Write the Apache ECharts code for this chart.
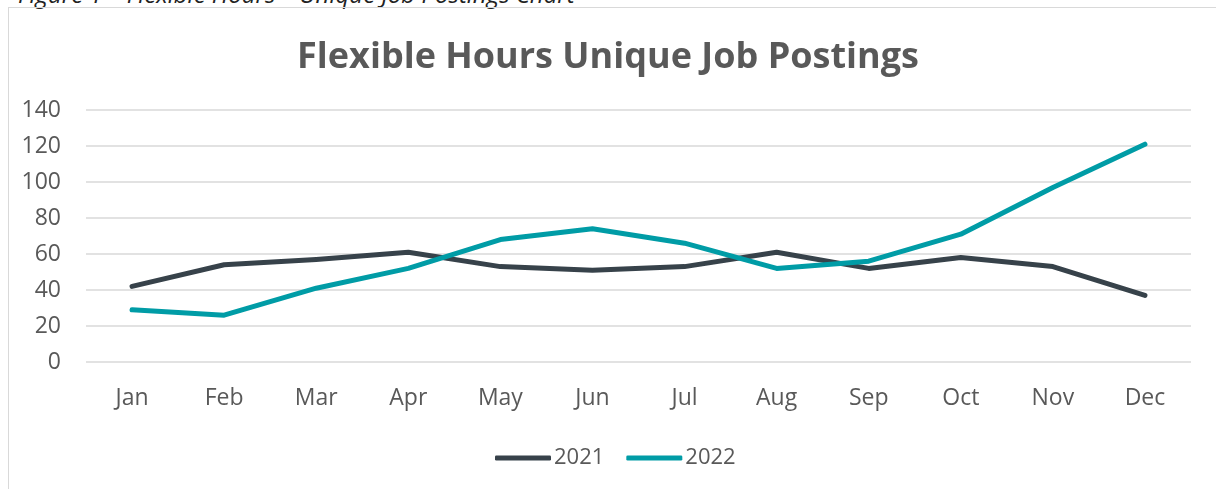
<!DOCTYPE html>
<html>
<head>
<meta charset="utf-8">
<script src="https://cdn.jsdelivr.net/npm/echarts@6/dist/echarts.min.js"></script>
<style>
  html, body { margin: 0; padding: 0; background: #fff; overflow: hidden; }
  #frame { position: absolute; left: 8px; top: 7px; width: 1400px; height: 700px; border-left: 1.5px solid #d9d9d9; border-top: 1.5px solid #d9d9d9; }
  #caption { position: absolute; left: 18px; top: -16px; line-height: 20px; font-family: "Open Sans", sans-serif; font-style: italic; font-size: 24px; color: #222; white-space: nowrap; }
  #chart { position: absolute; left: 0; top: 0; width: 1216px; height: 489px; }
</style>
</head>
<body>
<div id="caption">Figure 1 – Flexible Hours – Unique Job Postings Chart</div>
<div id="frame"></div>
<div id="chart"></div>
<script>
const months = ["Jan","Feb","Mar","Apr","May","Jun","Jul","Aug","Sep","Oct","Nov","Dec"];
const series2021 = [42, 54, 57, 61, 53, 51, 53, 61, 52, 58, 53, 37];
const series2022 = [29, 26, 41, 52, 68, 74, 66, 52, 56, 71, 97, 121];
const seriesNames = ["2021", "2022"];
const titleText = "Flexible Hours Unique Job Postings";

const chart = echarts.init(document.getElementById('chart'), null, { renderer: 'canvas' });
const font = '"Open Sans", "Noto Sans", sans-serif';
chart.setOption({
  animation: false,
  title: {
    text: titleText,
    left: 'center',
    top: 35,
    padding: [5, 0, 5, 8],
    textStyle: { fontFamily: font, fontSize: 36, fontWeight: 'bold', color: '#595959' }
  },
  legend: {
    data: seriesNames,
    bottom: 20,
    left: 495,
    padding: 0,
    icon: 'roundRect',
    itemWidth: 56,
    itemHeight: 5,
    itemGap: 22,
    textStyle: { fontFamily: font, fontSize: 22, color: '#595959', padding: [0, 0, 0, -2] }
  },
  grid: { left: 86, right: 25, top: 110, bottom: 127, containLabel: false },
  xAxis: {
    type: 'category',
    data: months,
    boundaryGap: true,
    axisLine: { show: false },
    axisTick: { show: false },
    axisLabel: { fontFamily: font, fontSize: 23, color: '#595959', margin: 25 }
  },
  yAxis: {
    type: 'value',
    min: 0, max: 140, interval: 20,
    axisLine: { show: false },
    axisTick: { show: false },
    axisLabel: { fontFamily: font, fontSize: 23, color: '#595959', margin: 25 },
    splitLine: { lineStyle: { color: '#d9d9d9', width: 1.5 } }
  },
  series: [
    {
      name: seriesNames[0], type: 'line', data: series2021,
      symbol: 'none', showSymbol: false,
      lineStyle: { color: '#37424a', width: 5, cap: 'round', join: 'round' },
      itemStyle: { color: '#37424a' }
    },
    {
      name: seriesNames[1], type: 'line', data: series2022,
      symbol: 'none', showSymbol: false,
      lineStyle: { color: '#009ca6', width: 5, cap: 'round', join: 'round' },
      itemStyle: { color: '#009ca6' }
    }
  ]
});
</script>
</body>
</html>
